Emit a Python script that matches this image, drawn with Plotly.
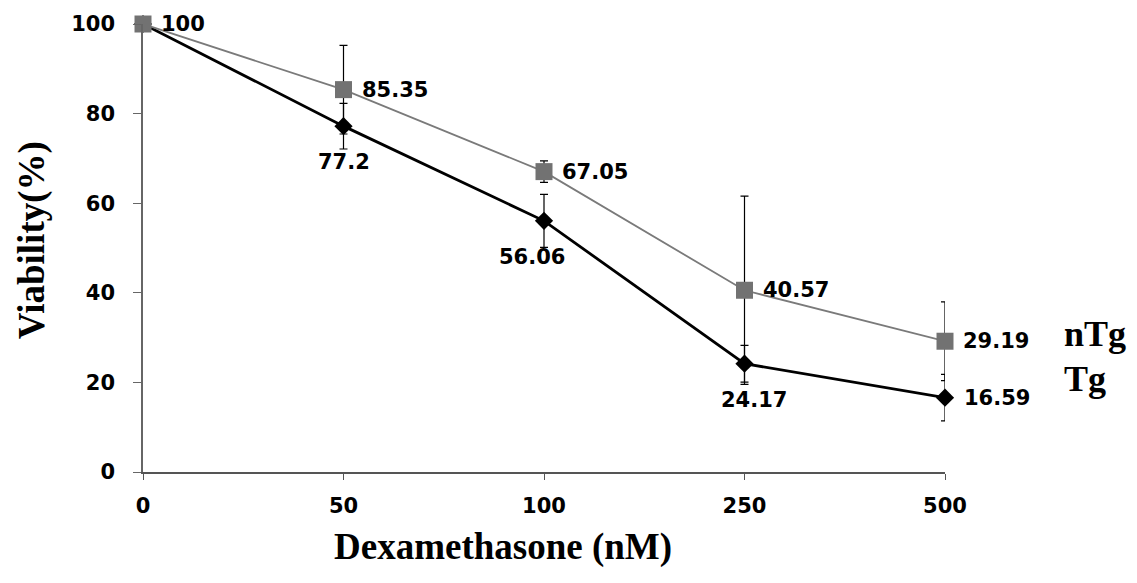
import plotly.graph_objects as go

# Dexamethasone doses (nM) and cell viability (%)
doses = ["0", "50", "100", "250", "500"]
ntg_viability = [100, 85.35, 67.05, 40.57, 29.19]
ntg_error = [0, 9.9, 2.4, 21.0, 8.8]
tg_viability = [100, 77.2, 56.06, 24.17, 16.59]
tg_error = [0, 5.1, 5.9, 4.1, 5.2]
series_names = ["nTg", "Tg"]

label_font = dict(family="DejaVu Sans", size=21, color="black", weight="bold")
serif_font = dict(family="Liberation Serif", size=36, color="black", weight="bold")
title_font = dict(family="Liberation Serif", size=37, color="black", weight="bold")

fig = go.Figure()

fig.add_trace(go.Scatter(
    x=doses, y=tg_viability, name=series_names[1], mode="lines+markers",
    line=dict(color="black", width=2.8),
    marker=dict(symbol="diamond", size=14, color="black"),
    error_y=dict(type="data", array=tg_error, color="black", thickness=1.2, width=4),
    cliponaxis=False,
))
fig.add_trace(go.Scatter(
    x=doses, y=ntg_viability, name=series_names[0], mode="lines+markers",
    line=dict(color="#7a7a7a", width=1.8),
    marker=dict(symbol="square", size=17, color="#727272"),
    error_y=dict(type="data", array=ntg_error, color="black", thickness=1.2, width=4),
    cliponaxis=False,
))

annotations = []
# nTg value labels sit to the right of each marker
for i, v in enumerate(ntg_viability):
    annotations.append(dict(x=i, y=v, xref="x", yref="y", text=f"{v:g}", showarrow=False,
                            xanchor="left", yanchor="middle", xshift=16, font=label_font))
# Tg value labels sit below the markers, except the last one which sits to the right
tg_x_shift = [0, 0, -12, 9]
for i, v in enumerate(tg_viability):
    if i == 0:
        continue
    if i == len(doses) - 1:
        annotations.append(dict(x=i, y=v, xref="x", yref="y", text=f"{v:g}", showarrow=False,
                                xanchor="left", yanchor="middle", xshift=17, font=label_font))
    else:
        annotations.append(dict(x=i, y=v, xref="x", yref="y", text=f"{v:g}", showarrow=False,
                                xanchor="center", yanchor="middle",
                                xshift=tg_x_shift[i], yshift=-36, font=label_font))

# series names at the right-hand side
annotations.append(dict(x=1062, y=583 - 332, xref="paper", yref="paper", text=series_names[0],
                        showarrow=False, xanchor="left", yanchor="middle", font=serif_font))
annotations.append(dict(x=1062, y=583 - 377, xref="paper", yref="paper", text=series_names[1],
                        showarrow=False, xanchor="left", yanchor="middle", font=serif_font))

# axis titles
annotations.append(dict(x=503, y=583 - 548, xref="paper", yref="paper",
                        text="Dexamethasone (nM)", showarrow=False,
                        xanchor="center", yanchor="middle", font=title_font))
annotations.append(dict(x=32, y=583 - 236, xref="paper", yref="paper",
                        text="Viability(%)", showarrow=False, textangle=-90,
                        xanchor="center", yanchor="middle", font=title_font))

# convert pixel-based paper positions to fractions of the plot area
W, H = 1137, 583
ml, mr, mt, mb = 143, 192, 16, 111
pw, ph = W - ml - mr, H - mt - mb
for a in annotations:
    if a.get("xref") == "paper":
        a["x"] = (a["x"] - ml) / pw
        a["y"] = (a["y"] - mb) / ph

fig.update_layout(
    width=W, height=H,
    margin=dict(l=ml, r=mr, t=mt, b=mb),
    paper_bgcolor="white", plot_bgcolor="white",
    showlegend=False,
    annotations=annotations,
    xaxis=dict(
        type="category", range=[0, 4], showgrid=False, zeroline=False,
        showline=True, linecolor="#555555", linewidth=1.5,
        ticks="outside", ticklen=6, tickcolor="#555555",
        tickfont=label_font, ticklabelstandoff=8,
    ),
    yaxis=dict(
        range=[0, 100], tickvals=[0, 20, 40, 60, 80, 100], showgrid=False, zeroline=False,
        showline=True, linecolor="#666666", linewidth=1.5,
        ticks="outside", ticklen=8, tickcolor="#666666",
        tickfont=label_font, ticklabelstandoff=14,
    ),
)

fig.write_html("out.html")
